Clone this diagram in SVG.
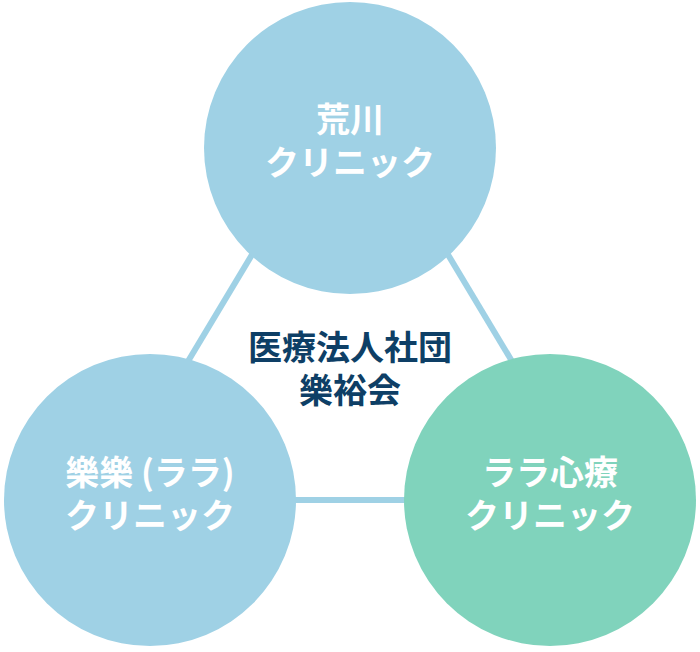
<svg xmlns="http://www.w3.org/2000/svg" width="700" height="652" viewBox="0 0 700 652">
<style>
.c{fill:#9fd1e5}
.g{fill:#80d3bc}
.t{fill:#fff;font-family:"Noto Sans CJK JP","Noto Sans",sans-serif;font-weight:bold;font-size:34px;text-anchor:middle}
.m{fill:#0e3f66;font-family:"Noto Sans CJK JP","Noto Sans",sans-serif;font-weight:bold;font-size:34px;text-anchor:middle}
</style>
<rect width="700" height="652" fill="#fff"/>
<g id="connectors" stroke="#9fd1e5" stroke-width="6" fill="none">
<line x1="265" y1="233" x2="175" y2="383"/>
<line x1="435" y1="233" x2="525" y2="383"/>
<line x1="280" y1="500" x2="420" y2="500"/>
</g>
<g id="center"><text class="m" x="350" y="360">医療法人社団</text><text class="m" x="350" y="403">樂裕会</text></g>
<g id="arakawa"><circle class="c" cx="350" cy="148" r="146"/><text class="t" x="350" y="132">荒川</text><text class="t" x="350" y="175">クリニック</text></g>
<g id="rara"><circle class="c" cx="150" cy="500" r="146"/><text class="t" x="150" y="485">樂樂 (ララ)</text><text class="t" x="150" y="528">クリニック</text></g>
<g id="rarashinryo"><circle class="g" cx="550" cy="500" r="146"/><text class="t" x="550" y="485">ララ心療</text><text class="t" x="550" y="528">クリニック</text></g>
</svg>
